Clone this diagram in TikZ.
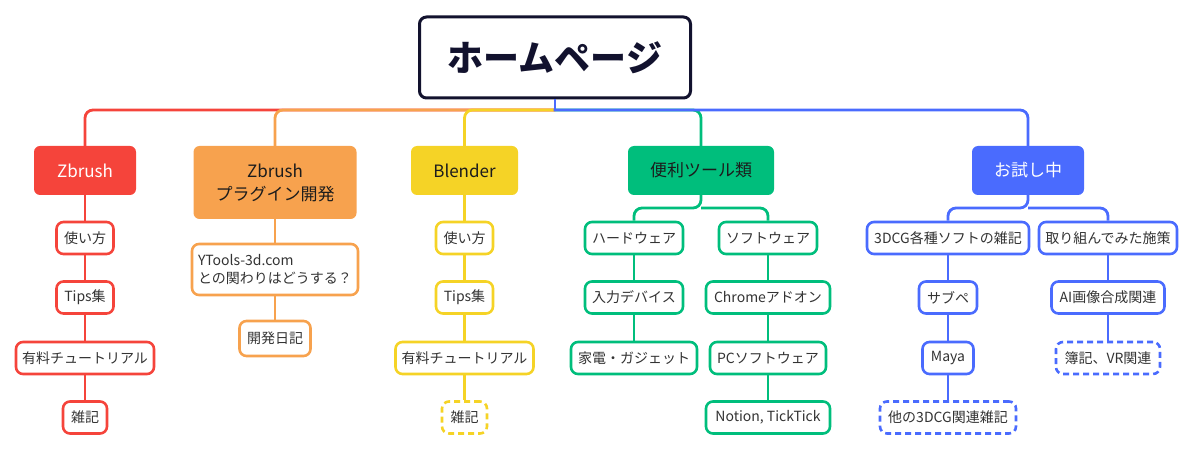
\documentclass[tikz,border=0pt]{standalone}
\usepackage{fontspec}
\setmainfont{Noto Sans CJK JP}
\definecolor{cRed}{HTML}{F5443B}
\definecolor{cOrange}{HTML}{F7A24E}
\definecolor{cYellow}{HTML}{F5D326}
\definecolor{cGreen}{HTML}{00BE7C}
\definecolor{cBlue}{HTML}{4A6BFE}
\definecolor{cRoot}{HTML}{12122E}
\definecolor{cText}{HTML}{333333}
\definecolor{cDark}{HTML}{1C1C1C}
\tikzset{
  rootbox/.style={draw=cRoot, line width=3pt, fill=white, rounded corners=7pt, inner sep=0pt,
    font=\fontsize{36}{40}\selectfont\bfseries, text=cRoot},
  topbox/.style={fill=#1, draw=none, rounded corners=6pt, inner sep=0pt, minimum height=49pt,
    font=\fontsize{17}{23}\selectfont, text=cDark, align=center},
  leafbox/.style={draw=#1, fill=white, line width=2.6pt, rounded corners=7pt, inner sep=0pt,
    minimum height=32pt, font=\fontsize{14}{18}\selectfont, text=cText},
  dashbox/.style={leafbox=#1, dash pattern=on 6pt off 4pt},
  link/.style={draw=#1, line width=2.8pt, rounded corners=8pt},
}
\begin{document}
\begin{tikzpicture}[x=1pt,y=-1pt]
\useasboundingbox (0,0) rectangle (1200,454);
% root
\node[rootbox, minimum width=271pt, minimum height=81pt] (root) at (555,57.5) {ホームページ};
\coordinate (hub) at (555,110);
% level 1
\node[topbox=cRed, minimum width=102pt, text=white] (zb) at (85,170.5) {Zbrush};
\node[topbox=cOrange, minimum width=163pt, minimum height=73pt] (zp) at (275,182.5) {Zbrush\\プラグイン開発};
\node[topbox=cYellow, minimum width=107pt] (bl) at (464.5,170.5) {Blender};
\node[topbox=cGreen, minimum width=146pt] (tl) at (701,170.5) {便利ツール類};
\node[topbox=cBlue, minimum width=112pt, text=white] (ts) at (1028,170.5) {お試し中};
% branches from root
\draw[link=cRed] (hub) -| (zb.north);
\draw[link=cOrange] (hub) -| (zp.north);
\draw[link=cYellow] (hub) -| (bl.north);
\draw[link=cGreen] (hub) -| (tl.north);
\draw[link=cBlue] ([xshift=-1.4pt]hub) -| (ts.north);
\draw[draw=cBlue, line width=2.8pt] (root.south) -- ([yshift=1.4pt]hub);
% red leaves
\node[leafbox=cRed, minimum width=57pt] (r1) at (85,238) {使い方};
\node[leafbox=cRed, minimum width=57pt] (r2) at (85,297.5) {Tips集};
\node[leafbox=cRed, minimum width=138pt] (r3) at (85,358) {有料チュートリアル};
\node[leafbox=cRed, minimum width=44pt] (r4) at (85,417.5) {雑記};
\draw[link=cRed] (zb.south) -- (r1.north);
\draw[link=cRed] (r1.south) -- (r2.north);
\draw[link=cRed] (r2.south) -- (r3.north);
\draw[link=cRed] (r3.south) -- (r4.north);
% orange leaves
\node[leafbox=cOrange, minimum width=166pt, minimum height=51pt, align=left] (o1) at (275,269.5) {YTools-3d.com\\との関わりはどうする？};
\node[leafbox=cOrange, minimum width=71pt, minimum height=35pt] (o2) at (275,338.5) {開発日記};
\draw[link=cOrange] (zp.south) -- (o1.north);
\draw[link=cOrange] (o1.south) -- (o2.north);
% yellow leaves
\node[leafbox=cYellow, minimum width=57pt] (y1) at (464.5,238) {使い方};
\node[leafbox=cYellow, minimum width=57pt] (y2) at (464.5,297.5) {Tips集};
\node[leafbox=cYellow, minimum width=138pt] (y3) at (464.5,358) {有料チュートリアル};
\node[dashbox=cYellow, minimum width=45pt] (y4) at (464.5,417.5) {雑記};
\draw[link=cYellow] (bl.south) -- (y1.north);
\draw[link=cYellow] (y1.south) -- (y2.north);
\draw[link=cYellow] (y2.south) -- (y3.north);
\draw[link=cYellow] (y3.south) -- (y4.north);
% green leaves
\node[leafbox=cGreen, minimum width=98pt] (g1) at (634,238) {ハードウェア};
\node[leafbox=cGreen, minimum width=98pt] (g2) at (634,297.5) {入力デバイス};
\node[leafbox=cGreen, minimum width=126pt] (g3) at (634,358) {家電・ガジェット};
\node[leafbox=cGreen, minimum width=98pt] (g4) at (768,238) {ソフトウェア};
\node[leafbox=cGreen, minimum width=124pt] (g5) at (768,297.5) {Chromeアドオン};
\node[leafbox=cGreen, minimum width=116pt] (g6) at (768,358) {PCソフトウェア};
\node[leafbox=cGreen, minimum width=124pt] (g7) at (768,417.5) {Notion, TickTick};
\coordinate (gsplit) at (701,208);
\draw[link=cGreen] (tl.south) -- (gsplit) -| (g1.north);
\draw[link=cGreen] (gsplit) -| (g4.north);
\draw[link=cGreen] (g1.south) -- (g2.north);
\draw[link=cGreen] (g2.south) -- (g3.north);
\draw[link=cGreen] (g4.south) -- (g5.north);
\draw[link=cGreen] (g5.south) -- (g6.north);
\draw[link=cGreen] (g6.south) -- (g7.north);
% blue leaves
\node[leafbox=cBlue, minimum width=162pt] (b1) at (948,238) {3DCG各種ソフトの雑記};
\node[leafbox=cBlue, minimum width=58pt] (b2) at (948,297.5) {サブペ};
\node[leafbox=cBlue, minimum width=51pt] (b3) at (948,358) {Maya};
\node[dashbox=cBlue, minimum width=136pt] (b4) at (948,417.5) {他の3DCG関連雑記};
\node[leafbox=cBlue, minimum width=138pt] (b5) at (1108,238) {取り組んでみた施策};
\node[leafbox=cBlue, minimum width=113pt] (b6) at (1108,297.5) {AI画像合成関連};
\node[dashbox=cBlue, minimum width=104pt] (b7) at (1108,358) {簿記、VR関連};
\coordinate (bsplit) at (1028,208);
\draw[link=cBlue] (ts.south) -- (bsplit) -| (b1.north);
\draw[link=cBlue] (bsplit) -| (b5.north);
\draw[link=cBlue] (b1.south) -- (b2.north);
\draw[link=cBlue] (b2.south) -- (b3.north);
\draw[link=cBlue] (b3.south) -- (b4.north);
\draw[link=cBlue] (b5.south) -- (b6.north);
\draw[link=cBlue] (b6.south) -- (b7.north);
\end{tikzpicture}
\end{document}
